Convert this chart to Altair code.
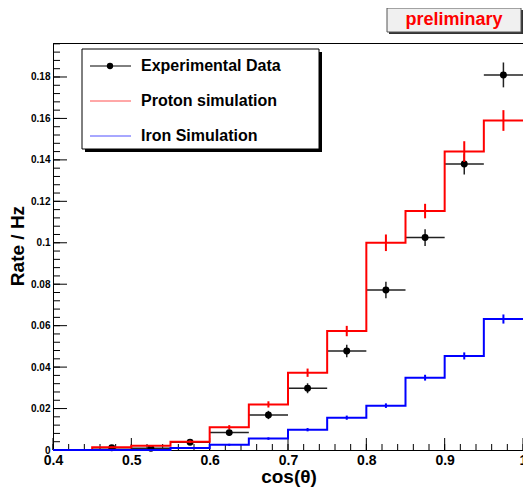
import altair as alt
import pandas as pd

# ---------------- data ----------------
edges = [0.40, 0.45, 0.50, 0.55, 0.60, 0.65, 0.70, 0.75, 0.80, 0.85, 0.90, 0.95, 1.00]
proton = [0.0, 0.0013, 0.002, 0.004, 0.011, 0.022, 0.0373, 0.0574, 0.100, 0.1153, 0.144, 0.159]
proton_err = [0.0, 0.0003, 0.0004, 0.0006, 0.001, 0.0015, 0.002, 0.0025, 0.004, 0.0035, 0.005, 0.005]
iron = [0.0, 0.0, 0.0, 0.001, 0.0025, 0.0055, 0.0098, 0.0156, 0.0214, 0.0349, 0.0454, 0.0632]
iron_err = [0.0, 0.0, 0.0, 0.0003, 0.0005, 0.0006, 0.0008, 0.001, 0.0011, 0.0014, 0.0017, 0.0022]
data_x = [0.475, 0.525, 0.575, 0.625, 0.675, 0.725, 0.775, 0.825, 0.875, 0.925, 0.975]
data_y = [0.0011, 0.0008, 0.0037, 0.0084, 0.0169, 0.0298, 0.0478, 0.0772, 0.1025, 0.138, 0.181]
data_err = [0.0005, 0.0004, 0.0008, 0.0015, 0.002, 0.0024, 0.003, 0.004, 0.004, 0.005, 0.006]
y_labels = [0.0, 0.02, 0.04, 0.06, 0.08, 0.10, 0.12, 0.14, 0.16, 0.18]
x_labels = [0.4, 0.5, 0.6, 0.7, 0.8, 0.9, 1.0]
y_minor = [round(i * 0.004, 3) for i in range(50)]
x_minor = [round(0.4 + i * 0.02, 2) for i in range(31)]
legend_labels = ["Experimental Data", "Proton simulation", "Iron Simulation"]

FONT = "Liberation Sans"
W, H = 470, 407
RED, BLUE = "#ff0000", "#0000ff"

xs = alt.Scale(domain=[0.4, 1.0], nice=False, zero=False)
ys = alt.Scale(domain=[0, 0.1964], nice=False, zero=True)

xax = alt.Axis(values=x_labels, format="~g", labelFont=FONT, labelFontWeight="bold",
               labelFontSize=14, labelPadding=3, ticks=False, grid=False,
               domainColor="black", title=None, labelFlush=False, labelOverlap=False,
               labelColor="black", labelBound=False)
yax = alt.Axis(values=y_labels, format="~g", labelFont=FONT, labelFontWeight="bold",
               labelFontSize=10, labelPadding=3, ticks=False, grid=False,
               domainColor="black", title=None, labelOverlap=False, labelColor="black")


def X(f):
    return alt.X(f, type="quantitative", scale=xs, axis=xax)


def Y(f):
    return alt.Y(f, type="quantitative", scale=ys, axis=yax)


centers = [(edges[i] + edges[i + 1]) / 2 for i in range(len(edges) - 1)]


def step_df(vals):
    return pd.DataFrame({"x": edges, "y": vals + [vals[-1]]})


def err_df(vals, errs):
    rows = [{"x": c, "lo": v - e, "hi": v + e} for c, v, e in zip(centers, vals, errs) if e > 0]
    return pd.DataFrame(rows)


one = pd.DataFrame({"k": [0]})
layers = []

# inward tick marks
layers.append(alt.Chart(pd.DataFrame({"v": y_minor})).mark_rule(color="black", strokeWidth=1)
              .encode(y=Y("v"), x=alt.value(0), x2=alt.value(7)))
layers.append(alt.Chart(pd.DataFrame({"v": y_labels})).mark_rule(color="black", strokeWidth=1)
              .encode(y=Y("v"), x=alt.value(0), x2=alt.value(14)))
layers.append(alt.Chart(pd.DataFrame({"v": x_minor})).mark_rule(color="black", strokeWidth=1)
              .encode(x=X("v"), y=alt.value(H), y2=alt.value(H - 6)))
layers.append(alt.Chart(pd.DataFrame({"v": x_labels})).mark_rule(color="black", strokeWidth=1)
              .encode(x=X("v"), y=alt.value(H), y2=alt.value(H - 12)))

# experimental data
dd = pd.DataFrame({"x": data_x, "y": data_y, "e": data_err})
dd["lo"] = dd["y"] - dd["e"]
dd["hi"] = dd["y"] + dd["e"]
dd["xl"] = dd["x"] - 0.025
dd["xh"] = dd["x"] + 0.025
layers.append(alt.Chart(dd).mark_rule(color="#222222", strokeWidth=1.5)
              .encode(x=X("xl"), x2="xh", y=Y("y")))
layers.append(alt.Chart(dd).mark_rule(color="#222222", strokeWidth=1.5)
              .encode(x=X("x"), y=Y("lo"), y2="hi"))
layers.append(alt.Chart(dd).mark_circle(color="black", size=48, opacity=1)
              .encode(x=X("x"), y=Y("y")))

# simulations
for vals, errs, col in [(proton, proton_err, RED), (iron, iron_err, BLUE)]:
    layers.append(alt.Chart(step_df(vals)).mark_line(color=col, strokeWidth=2, interpolate="step-after")
                  .encode(x=X("x"), y=Y("y")))
    layers.append(alt.Chart(err_df(vals, errs)).mark_rule(color=col, strokeWidth=2)
                  .encode(x=X("x"), y=Y("lo"), y2="hi"))

# legend box
layers.append(alt.Chart(one).mark_rect(color="black")
              .encode(x=alt.value(32), x2=alt.value(269), y=alt.value(9), y2=alt.value(109)))
layers.append(alt.Chart(one).mark_rect(fill="white", stroke="black", strokeWidth=1)
              .encode(x=alt.value(29), x2=alt.value(266), y=alt.value(6), y2=alt.value(106)))
leg_y = [23, 58, 93]
leg_col = ["black", "#ff5050", "#5050ff"]
for lab, yy, c in zip(legend_labels, leg_y, leg_col):
    layers.append(alt.Chart(one).mark_rule(color=c, strokeWidth=1)
                  .encode(x=alt.value(37), x2=alt.value(78), y=alt.value(yy)))
    layers.append(alt.Chart(one).mark_text(text=lab, font=FONT, fontWeight="bold", fontSize=16,
                                          align="left", baseline="middle", color="black")
                  .encode(x=alt.value(88), y=alt.value(yy)))
layers.append(alt.Chart(one).mark_circle(color="black", size=40, opacity=1)
              .encode(x=alt.value(57), y=alt.value(23)))

# "preliminary" box
layers.append(alt.Chart(one).mark_rect(color="#333333")
              .encode(x=alt.value(336), x2=alt.value(470), y=alt.value(-33), y2=alt.value(-9)))
layers.append(alt.Chart(one).mark_rect(fill="#f0f0f0", stroke="#555555", strokeWidth=1)
              .encode(x=alt.value(334), x2=alt.value(468), y=alt.value(-35), y2=alt.value(-11)))
layers.append(alt.Chart(one).mark_text(text="preliminary", font=FONT, fontWeight="bold", fontSize=18,
                                      align="center", baseline="middle", color="#ff0000")
              .encode(x=alt.value(401), y=alt.value(-23)))

# axis titles
layers.append(alt.Chart(one).mark_text(text="Rate / Hz", font=FONT, fontWeight="bold", fontSize=19,
                                      align="center", baseline="alphabetic", angle=270, color="black")
              .encode(x=alt.value(-29), y=alt.value(203)))
layers.append(alt.Chart(one).mark_text(text="cos(θ)", font=FONT, fontWeight="bold", fontSize=19,
                                      align="center", baseline="alphabetic", color="black")
              .encode(x=alt.value(236), y=alt.value(440)))

chart = alt.layer(*layers).properties(
    width=W, height=H,
    autosize=alt.AutoSizeParams(type="none"),
    padding={"left": 45, "top": 35, "right": 0, "bottom": 37},
    background="white",
).configure_view(stroke="black", strokeWidth=1)

chart.save("out.html", embed_options={"renderer": "svg", "actions": False})
